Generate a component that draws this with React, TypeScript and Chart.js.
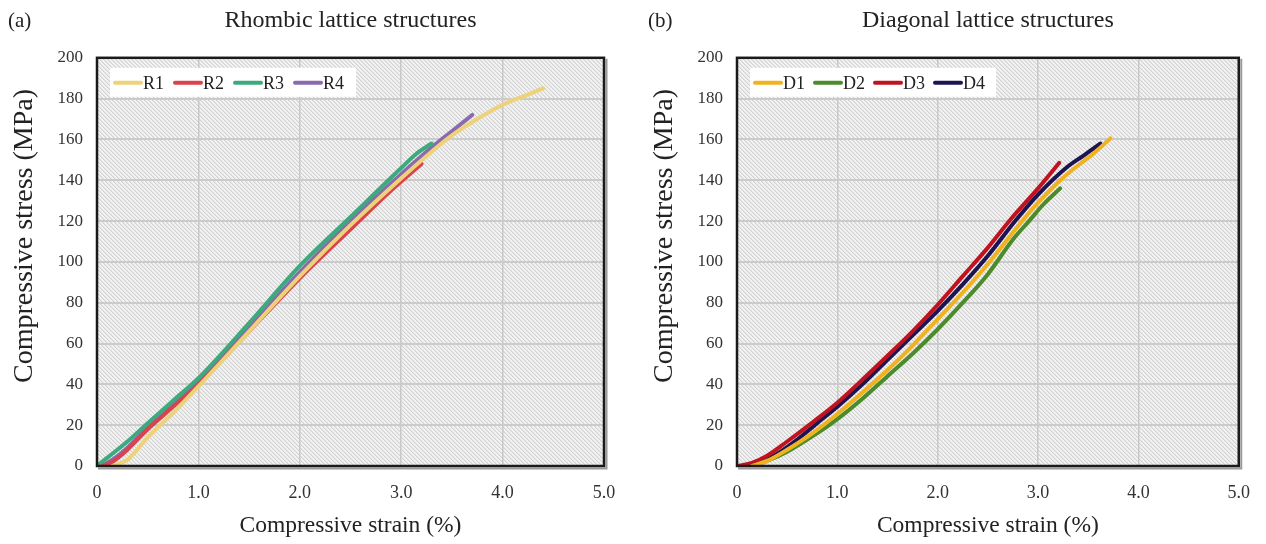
import React, { useEffect, useRef } from "react";
import { Chart, registerables } from "chart.js";
Chart.register(...registerables);

// ---------- data ----------
const xTicks = [0, 1, 2, 3, 4, 5];
const yTicks = [0, 20, 40, 60, 80, 100, 120, 140, 160, 180, 200];

const rhombicNames = ["R1", "R2", "R3", "R4"];
const rhombicColors = ["#EDD27A", "#D9434E", "#3DAA7D", "#8A6AAE"];
const r1Strain = [0.15, 0.3, 0.5, 0.75, 1.0, 1.5, 2.0, 2.5, 3.0, 3.3, 3.5, 3.75, 4.0, 4.2, 4.4];
const r1Stress = [0, 3, 14, 26, 39, 66, 93, 118, 141, 154, 162, 170, 177, 181, 185];
const r2Strain = [0.05, 0.15, 0.3, 0.5, 0.75, 1.0, 1.5, 2.0, 2.5, 2.9, 3.2];
const r2Stress = [0, 2, 8, 18, 29, 40, 66, 92, 116, 135, 148];
const r3Strain = [0, 0.1, 0.3, 0.5, 0.75, 1.0, 1.5, 2.0, 2.5, 3.0, 3.15, 3.3];
const r3Stress = [0, 4, 12, 21, 32, 43, 70, 98, 122, 146, 153, 158];
const r4Strain = [0.05, 0.15, 0.3, 0.5, 0.75, 1.0, 1.5, 2.0, 2.5, 3.0, 3.3, 3.5, 3.7];
const r4Stress = [0, 3, 9, 19, 30, 41, 68, 95, 120, 143, 156, 164, 172];

const diagonalNames = ["D1", "D2", "D3", "D4"];
const diagonalColors = ["#F0B21E", "#4B8B2B", "#C1121F", "#1E1452"];
const d1Strain = [0.15, 0.3, 0.5, 0.75, 1.0, 1.25, 1.5, 1.75, 2.0, 2.25, 2.5, 2.85, 3.0, 3.2, 3.34, 3.55, 3.72];
const d1Stress = [0, 2.5, 8, 16, 25.5, 36, 47, 59, 72, 85, 99, 120.5, 129, 139, 145, 153, 160.5];
const d2Strain = [0.15, 0.3, 0.5, 0.75, 1.0, 1.25, 1.5, 1.75, 2.0, 2.25, 2.5, 2.75, 2.91, 3.05, 3.22];
const d2Stress = [0, 2.5, 7, 14.5, 23, 33, 44, 55, 67, 80, 94, 111, 120, 128, 136];
const d3Strain = [0, 0.15, 0.3, 0.5, 0.77, 1.0, 1.2, 1.5, 1.75, 2.0, 2.25, 2.5, 2.73, 3.0, 3.21];
const d3Stress = [0, 1.5, 5, 12, 22, 31, 40, 54, 66, 79, 93, 107, 121, 136, 148.5];
const d4Strain = [0.12, 0.25, 0.4, 0.6, 0.85, 1.0, 1.25, 1.5, 1.75, 2.0, 2.25, 2.5, 2.78, 3.0, 3.29, 3.45, 3.62];
const d4Stress = [0, 2, 6, 13, 23, 29, 40, 52, 64, 76, 89, 103, 120.5, 133, 146.5, 152, 158];

const xTitle = "Compressive strain (%)";
const yTitle = "Compressive stress (MPa)";

const FONT = "'Liberation Serif', 'Times New Roman', serif";

type Series = { name: string; color: string; x: number[]; y: number[] };

const rhombicSeries: Series[] = [
  { name: rhombicNames[0], color: rhombicColors[0], x: r1Strain, y: r1Stress },
  { name: rhombicNames[1], color: rhombicColors[1], x: r2Strain, y: r2Stress },
  { name: rhombicNames[2], color: rhombicColors[2], x: r3Strain, y: r3Stress },
  { name: rhombicNames[3], color: rhombicColors[3], x: r4Strain, y: r4Stress },
];
const diagonalSeries: Series[] = [
  { name: diagonalNames[0], color: diagonalColors[0], x: d1Strain, y: d1Stress },
  { name: diagonalNames[1], color: diagonalColors[1], x: d2Strain, y: d2Stress },
  { name: diagonalNames[2], color: diagonalColors[2], x: d3Strain, y: d3Stress },
  { name: diagonalNames[3], color: diagonalColors[3], x: d4Strain, y: d4Stress },
];

function makePattern(ctx: CanvasRenderingContext2D) {
  const c = document.createElement("canvas");
  c.width = 4;
  c.height = 4;
  const p = c.getContext("2d")!;
  p.fillStyle = "#f3f3f3";
  p.fillRect(0, 0, 4, 4);
  p.fillStyle = "#d2d2d2";
  for (let i = 0; i < 4; i++) p.fillRect(i, i, 1, 1);
  p.fillStyle = "#e4e4e4";
  for (let i = 0; i < 4; i++) p.fillRect((i + 1) % 4, i, 1, 1);
  return ctx.createPattern(c, "repeat")!;
}

function Panel(props: { series: Series[]; title: string; tag: string; width: number; padRight: number; left: number }) {
  const ref = useRef<HTMLCanvasElement>(null);
  useEffect(() => {
    const canvas = ref.current!;
    const { series, title, tag, padRight } = props;

    const bgPlugin = {
      id: "hatchBg",
      beforeDraw(chart: any) {
        const { ctx, chartArea: a } = chart;
        ctx.save();
        ctx.fillStyle = makePattern(ctx);
        ctx.fillRect(a.left, a.top, a.right - a.left, a.bottom - a.top);
        ctx.restore();
      },
    };
    const framePlugin = {
      id: "frameLegend",
      afterDraw(chart: any) {
        const { ctx, chartArea: a } = chart;
        ctx.save();
        ctx.strokeStyle = "#9a9a9a";
        ctx.lineWidth = 2;
        ctx.beginPath();
        ctx.moveTo(a.right + 2.5, a.top + 1);
        ctx.lineTo(a.right + 2.5, a.bottom + 2.5);
        ctx.lineTo(a.left + 1, a.bottom + 2.5);
        ctx.stroke();
        ctx.strokeStyle = "#1a1a1a";
        ctx.lineWidth = 2.5;
        ctx.strokeRect(a.left, a.top, a.right - a.left, a.bottom - a.top);
        // legend
        const bx = a.left + 13;
        const by = a.top + 10;
        ctx.fillStyle = "#ffffff";
        ctx.fillRect(bx, by, 246, 29);
        ctx.font = `18px ${FONT}`;
        ctx.textBaseline = "middle";
        ctx.textAlign = "left";
        chart.data.datasets.forEach((ds: any, i: number) => {
          const lx = bx + 5 + i * 60;
          const cy = by + 15;
          ctx.strokeStyle = ds.borderColor;
          ctx.lineWidth = 4;
          ctx.lineCap = "round";
          ctx.beginPath();
          ctx.moveTo(lx, cy);
          ctx.lineTo(lx + 26, cy);
          ctx.stroke();
          ctx.fillStyle = "#222";
          ctx.fillText(ds.label, lx + 28, cy + 1);
        });
        // panel tag
        ctx.font = `21px ${FONT}`;
        ctx.fillStyle = "#222";
        ctx.textBaseline = "middle";
        ctx.fillText(tag, 8, 21);
        // y axis title
        ctx.translate(25, 236);
        ctx.rotate(-Math.PI / 2);
        ctx.textAlign = "center";
        ctx.font = `28px ${FONT}`;
        ctx.fillText(yTitle, 0, 0);
        ctx.restore();
      },
    };

    const chart = new Chart(canvas, {
      type: "line",
      data: {
        datasets: series.map((s) => ({
          label: s.name,
          data: s.x.map((x, i) => ({ x, y: s.y[i] })),
          borderColor: s.color,
          backgroundColor: s.color,
          borderWidth: 4,
          pointRadius: 0,
          fill: false,
          cubicInterpolationMode: "monotone" as const,
          borderCapStyle: "round" as const,
        })),
      },
      options: {
        animation: false,
        responsive: false,
        devicePixelRatio: 1,
        layout: { padding: { left: 0, right: padRight, top: 0, bottom: 0 } },
        plugins: {
          legend: { display: false },
          tooltip: { enabled: false },
          title: {
            display: true,
            text: title,
            fullSize: false,
            color: "#222",
            font: { family: FONT, size: 24, weight: "normal" as const },
            padding: { top: 6, bottom: 23 },
          },
        },
        scales: {
          x: {
            type: "linear",
            min: xTicks[0],
            max: xTicks[xTicks.length - 1],
            afterBuildTicks: (s: any) => {
              s.ticks = xTicks.map((v) => ({ value: v }));
            },
            afterFit: (s: any) => {
              s.height = 78;
            },
            ticks: {
              callback: (v: any) => (Number(v) === 0 ? "0" : Number(v).toFixed(1)),
              color: "#333",
              font: { family: FONT, size: 18 },
              padding: 16,
              maxRotation: 0,
            },
            grid: { color: "#c8c8c8", lineWidth: 1.5, drawTicks: false },
            border: { display: false },
            title: {
              display: true,
              text: xTitle,
              color: "#222",
              font: { family: FONT, size: 23.5 },
              padding: { top: 0, bottom: 4 },
            },
          },
          y: {
            type: "linear",
            min: yTicks[0],
            max: yTicks[yTicks.length - 1],
            afterBuildTicks: (s: any) => {
              s.ticks = yTicks.map((v) => ({ value: v }));
            },
            afterFit: (s: any) => {
              s.width = 97;
            },
            ticks: {
              color: "#333",
              font: { family: FONT, size: 17 },
              padding: 14,
            },
            grid: { color: "#cbcbcb", lineWidth: 2, drawTicks: false },
            border: { display: false },
            title: { display: false },
          },
        },
      },
      plugins: [bgPlugin, framePlugin],
    });
    return () => chart.destroy();
  }, []);
  return (
    <canvas
      ref={ref}
      width={props.width}
      height={544}
      style={{ position: "absolute", top: 0, left: props.left, width: props.width, height: 544 }}
    />
  );
}

export default function App() {
  return (
    <div style={{ position: "fixed", top: 0, left: 0, width: 1266, height: 544, background: "#fff", overflow: "hidden" }}>
      <Panel series={rhombicSeries} title="Rhombic lattice structures" tag="(a)" width={640} padRight={36} left={0} />
      <Panel series={diagonalSeries} title="Diagonal lattice structures" tag="(b)" width={626} padRight={23} left={640} />
    </div>
  );
}
